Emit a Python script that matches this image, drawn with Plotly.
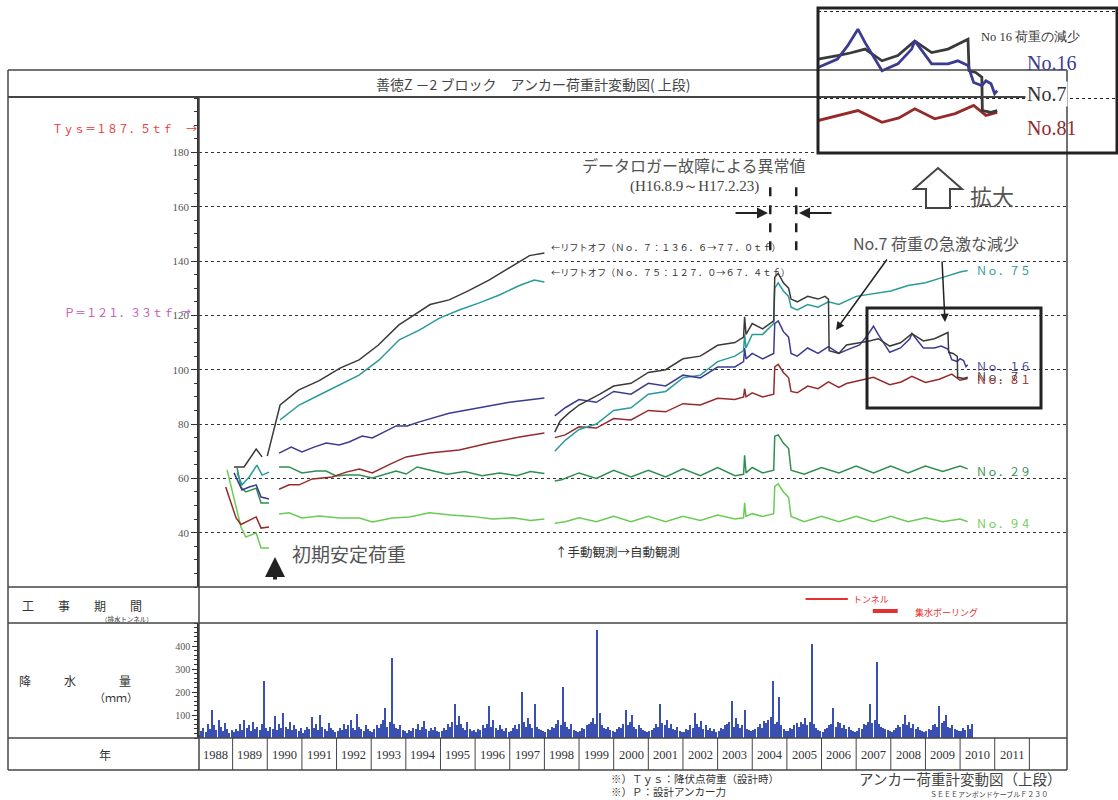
import plotly.graph_objects as go

W, H = 1118, 800
def px(x): return x / W
def py(y): return 1 - y / H

CJK = "Noto Sans CJK JP"
SERIF = "Liberation Serif"

# ---------------- anchor load data (tf) ----------------
no7_initial = [(1989.04, 64.2), (1989.33, 64.2), (1989.68, 70.8), (1989.85, 67.9)]
no7_manual = [(1990.0, 68.2), (1990.37, 87), (1990.9, 92.5), (1991.5, 96), (1992.1, 100.6), (1992.65, 103.6),
              (1993.2, 109), (1993.8, 116.5), (1994.1, 119), (1994.7, 124), (1995.25, 125.7), (1995.8, 129),
              (1996.4, 133), (1997.0, 137.5), (1997.57, 142), (1998.0, 143)]
no7_auto = [(1998.3, 77), (1998.45, 81), (1998.7, 84), (1999.0, 87), (1999.3, 89), (1999.6, 91), (2000.0, 94),
            (2000.5, 95), (2001.0, 99), (2001.5, 100), (2002.0, 104), (2002.5, 105), (2003.0, 109), (2003.5, 110),
            (2003.75, 112), (2003.78, 119.5), (2003.82, 113), (2004.0, 117), (2004.3, 115), (2004.62, 118),
            (2004.65, 134), (2004.75, 135.5), (2004.9, 132), (2005.05, 130), (2005.12, 126), (2005.3, 125),
            (2005.6, 127), (2005.9, 126), (2006.1, 127), (2006.2, 126), (2006.22, 107), (2006.5, 106),
            (2006.72, 109.1), (2007.1, 109.9), (2007.35, 110.5), (2007.64, 111.4), (2007.97, 108.7),
            (2008.28, 109.9), (2008.61, 113.3), (2008.94, 110.6), (2009.26, 111.4), (2009.65, 113.7),
            (2009.67, 106.4), (2009.8, 106), (2009.92, 104.9), (2009.93, 97.2), (2010.1, 96.8), (2010.22, 97.2)]

no75_initial = [(1989.13, 62), (1989.27, 57.6), (1989.48, 60.5), (1989.7, 64.9), (1989.85, 61.2), (1990.05, 62.3)]
no75_manual = [(1990.37, 81.5), (1990.92, 87), (1991.5, 90.7), (1992.08, 94.4), (1992.65, 98), (1993.23, 103.6),
               (1993.81, 111), (1994.39, 114.6), (1994.97, 119), (1995.54, 122), (1996.12, 124.6), (1996.7, 127.5),
               (1997.28, 131), (1997.71, 133), (1998.0, 132.3)]
no75_auto = [(1998.3, 70), (1998.6, 74), (1999.0, 78), (1999.5, 80), (2000.0, 85), (2000.5, 86), (2001.0, 91),
             (2001.5, 92), (2002.0, 97), (2002.5, 98), (2003.0, 103), (2003.5, 105), (2003.75, 107), (2003.78, 113),
             (2003.82, 108), (2004.0, 113), (2004.3, 113), (2004.62, 117), (2004.65, 130), (2004.75, 132),
             (2004.9, 129), (2005.05, 127), (2005.12, 123), (2005.3, 122), (2005.6, 124), (2005.9, 123),
             (2006.2, 125), (2006.5, 124), (2007.0, 127), (2007.5, 128), (2008.0, 129), (2008.5, 131),
             (2009.0, 132), (2009.5, 134), (2010.0, 136), (2010.22, 136.5)]

no16_initial = [(1989.04, 62), (1989.27, 55.7), (1989.48, 56.8), (1989.68, 57.6), (1989.82, 53.1), (1990.05, 52.4)]
no16_manual = [(1990.34, 69.3), (1990.69, 71.5), (1991.0, 69.7), (1991.35, 71.5), (1991.7, 73), (1992.08, 72.3),
               (1992.36, 73.4), (1992.74, 75.6), (1993.03, 74.9), (1993.72, 79.3), (1994.04, 79.3), (1994.39, 80.8),
               (1995.25, 84), (1996.12, 86), (1996.99, 88), (1998.0, 89.6)]
no16_auto = [(1998.3, 83), (1998.6, 86), (1999.0, 89), (1999.5, 88), (2000.0, 92), (2000.5, 91), (2001.0, 95),
             (2001.5, 94), (2002.0, 98), (2002.5, 97), (2003.0, 101), (2003.5, 101), (2003.75, 103), (2003.78, 108),
             (2003.82, 104), (2004.0, 106), (2004.3, 104), (2004.62, 106), (2004.65, 117), (2004.75, 118),
             (2004.9, 114), (2005.05, 112), (2005.12, 106), (2005.3, 105), (2005.6, 108), (2005.9, 106),
             (2006.2, 108.5), (2006.5, 106), (2006.72, 107.2), (2007.1, 109.1), (2007.3, 112.2), (2007.5, 116),
             (2007.64, 112.9), (2007.97, 106.4), (2008.28, 108), (2008.55, 111.4), (2008.61, 113.3),
             (2008.94, 108), (2009.26, 108), (2009.45, 108.7), (2009.65, 107.6), (2009.76, 103.7),
             (2009.92, 103), (2010.0, 104.1), (2010.1, 103.4), (2010.17, 101.1), (2010.22, 101.8)]

no81_initial = [(1988.8, 56.8), (1989.1, 45.4), (1989.24, 43), (1989.68, 45.8), (1989.82, 41.7), (1990.05, 42.1)]
no81_manual = [(1990.34, 56), (1990.63, 57.6), (1990.92, 57.6), (1991.3, 59.8), (1991.87, 60.5), (1992.28, 62.3),
               (1992.66, 63.4), (1993.03, 62), (1993.61, 65.6), (1994.01, 67.9), (1994.68, 69.3), (1995.54, 70.4),
               (1996.41, 73), (1997.28, 75.2), (1998.0, 76.7)]
no81_auto = [(1998.3, 75), (1998.6, 76), (1999.0, 79), (1999.5, 78.5), (2000.0, 82), (2000.5, 81.5), (2001.0, 85),
             (2001.5, 84.5), (2002.0, 87.5), (2002.5, 87), (2003.0, 89.5), (2003.5, 89), (2003.75, 90), (2003.78, 93),
             (2003.82, 90), (2004.0, 91.5), (2004.3, 90), (2004.62, 91), (2004.65, 101), (2004.75, 102),
             (2004.9, 99), (2005.05, 97), (2005.12, 92), (2005.3, 91.5), (2005.6, 94), (2005.9, 93), (2006.2, 95.5),
             (2006.5, 93.5), (2006.72, 94.9), (2007.1, 96), (2007.5, 97.2), (2007.97, 94.5), (2008.3, 95.5),
             (2008.61, 97.6), (2009.0, 95.3), (2009.4, 96.5), (2009.76, 98.4), (2010.0, 96.1), (2010.22, 96.8)]

no29_initial = [(1989.13, 63.8), (1989.24, 56.8), (1989.38, 55), (1989.68, 56.4), (1989.82, 50.9), (1990.05, 50.9)]
no29_manual = [(1990.34, 64.2), (1990.63, 64.2), (1991.0, 62), (1991.41, 62.7), (1991.7, 62.7), (1991.99, 60.9),
               (1992.28, 61.2), (1992.66, 61.2), (1993.03, 60.1), (1993.32, 61.2), (1993.72, 62.7), (1994.01, 61.6),
               (1994.33, 64.2), (1994.68, 63.1), (1995.2, 61.5), (1995.7, 62.5), (1996.2, 61), (1996.7, 62),
               (1997.2, 61), (1997.6, 62.5), (1998.0, 61.8)]
no29_auto = [(1998.3, 59), (1998.5, 59.5), (1999.0, 62), (1999.5, 60), (2000.0, 63), (2000.5, 60.5), (2001.0, 63),
             (2001.5, 60.5), (2002.0, 63.5), (2002.5, 61), (2003.0, 64), (2003.5, 61), (2003.75, 61.5),
             (2003.78, 68.5), (2003.82, 62), (2004.0, 64), (2004.3, 62), (2004.62, 63), (2004.65, 75.5),
             (2004.75, 76), (2004.9, 73), (2005.05, 71), (2005.12, 63), (2005.5, 61.5), (2006.0, 64), (2006.5, 62),
             (2007.0, 64.5), (2007.5, 62), (2008.0, 64.5), (2008.5, 62), (2009.0, 64.5), (2009.5, 62.5),
             (2010.0, 64.5), (2010.22, 63.5)]

no94_initial = [(1988.84, 63.1), (1989.24, 42.1), (1989.38, 38.4), (1989.68, 39.9), (1989.82, 34.4), (1990.05, 34.4)]
no94_manual = [(1990.34, 46.9), (1990.63, 47.3), (1991.0, 45.4), (1991.5, 46.1), (1992.08, 45.4), (1992.66, 45.4),
               (1993.03, 43.9), (1993.61, 45.4), (1994.1, 45.8), (1994.68, 47.3), (1995.3, 46.5), (1995.9, 46),
               (1996.5, 45), (1997.1, 45.5), (1997.6, 44.5), (1998.0, 45)]
no94_auto = [(1998.3, 43.5), (1998.6, 44), (1999.0, 45.5), (1999.5, 44), (2000.0, 46), (2000.5, 44), (2001.0, 46),
             (2001.5, 44), (2002.0, 46), (2002.5, 44.5), (2003.0, 46.5), (2003.5, 45), (2003.75, 45.5),
             (2003.78, 51), (2003.82, 46), (2004.0, 47), (2004.3, 46), (2004.62, 47), (2004.65, 57), (2004.75, 58),
             (2004.9, 55), (2005.05, 53), (2005.12, 46), (2005.5, 44), (2006.0, 46), (2006.5, 44), (2007.0, 46),
             (2007.5, 44), (2008.0, 46), (2008.5, 44), (2009.0, 45.5), (2009.5, 44), (2010.0, 45), (2010.22, 44)]

# ---------------- rainfall (mm), 16 slots per year from 1988 ----------------
rain_first_year = 1988
rain_slots = 16
rain_mm = [
    15, 30, 45, 25, 60, 40, 122, 55, 35, 80, 50, 30, 65, 40, 20, 35,      # 1988
    25, 40, 30, 60, 35, 80, 45, 55, 30, 70, 40, 50, 35, 60, 250, 45,      # 1989
    30, 50, 40, 95, 35, 60, 45, 110, 50, 40, 70, 35, 55, 40, 30, 45,      # 1990
    20, 35, 50, 40, 90, 45, 60, 35, 100, 50, 40, 30, 65, 45, 35, 25,      # 1991
    30, 45, 35, 60, 40, 55, 80, 45, 35, 105, 50, 40, 30, 55, 40, 30,      # 1992
    25, 40, 55, 45, 60, 80, 130, 50, 70, 350, 60, 45, 40, 55, 35, 30,     # 1993
    20, 35, 30, 45, 40, 60, 35, 50, 75, 40, 30, 45, 35, 50, 30, 25,       # 1994
    30, 45, 35, 60, 50, 70, 150, 55, 95, 60, 45, 35, 70, 40, 30, 35,      # 1995
    25, 40, 35, 55, 45, 60, 140, 50, 80, 45, 35, 55, 40, 30, 45, 25,      # 1996
    30, 45, 55, 40, 60, 200, 70, 50, 85, 60, 45, 150, 50, 40, 35, 30,     # 1997
    25, 40, 35, 50, 45, 60, 80, 55, 220, 70, 50, 40, 60, 35, 30, 25,      # 1998
    30, 45, 40, 55, 60, 70, 85, 60, 470, 110, 55, 45, 40, 50, 35, 30,     # 1999
    25, 40, 50, 45, 60, 120, 55, 70, 100, 50, 40, 55, 45, 35, 30, 25,     # 2000
    30, 35, 45, 60, 50, 150, 65, 55, 80, 45, 60, 40, 35, 50, 30, 25,      # 2001
    25, 40, 35, 55, 45, 110, 60, 50, 75, 40, 55, 35, 45, 30, 40, 25,      # 2002
    30, 45, 40, 55, 60, 70, 160, 50, 85, 60, 45, 55, 120, 40, 35, 30,     # 2003
    35, 40, 50, 60, 45, 75, 65, 80, 90, 250, 60, 70, 180, 55, 40, 30,     # 2004
    30, 45, 40, 55, 65, 50, 70, 60, 85, 55, 70, 410, 60, 45, 35, 30,      # 2005
    25, 40, 45, 55, 60, 130, 50, 70, 65, 45, 55, 40, 50, 35, 30, 25,      # 2006
    30, 45, 40, 60, 55, 70, 150, 65, 80, 330, 60, 50, 45, 40, 35, 30,     # 2007
    25, 35, 45, 55, 50, 60, 100, 55, 70, 45, 60, 40, 50, 35, 30, 25,      # 2008
    30, 40, 35, 55, 60, 50, 140, 65, 75, 100, 50, 45, 55, 40, 35, 30,     # 2009
    30, 45, 35, 55, 40, 60,                                               # 2010
]

# ---------------- other values ----------------
years = list(range(1988, 2012))
y_ticks = [40, 60, 80, 100, 120, 140, 160, 180]
rain_ticks = [100, 200, 300, 400]
Tys = 187.5
P_design = 121.33
logger_gap = [2004.52, 2005.27]
works = [("トンネル", 2005.54, 2006.76), ("集水ボーリング", 2007.48, 2008.2)]

C7, C75, C16, C81, C29, C94 = "#3a3a3a", "#2a9a9a", "#3b3b92", "#962a2a", "#2f8f50", "#6acb55"

def joined(*segs):
    xs, ys = [], []
    for i, s in enumerate(segs):
        if i:
            xs.append(None); ys.append(None)
        xs += [p[0] for p in s]
        ys += [p[1] for p in s]
    return xs, ys

series = [
    ("No.94", C94, (no94_initial, no94_manual, no94_auto)),
    ("No.29", C29, (no29_initial, no29_manual, no29_auto)),
    ("No.81", C81, (no81_initial, no81_manual, no81_auto)),
    ("No.75", C75, (no75_initial, no75_manual, no75_auto)),
    ("No.16", C16, (no16_initial, no16_manual, no16_auto)),
    ("No.7", C7, (no7_initial, no7_manual, no7_auto)),
]

fig = go.Figure()
for name, col, segs in series:
    xs, ys = joined(*segs)
    fig.add_trace(go.Scatter(x=xs, y=ys, mode="lines", line=dict(color=col, width=1.5),
                             name=name, xaxis="x", yaxis="y", hoverinfo="skip"))

# inset (magnified) traces
for name, col, segs in [("No.81", C81, (no81_auto,)), ("No.7", C7, (no7_auto,)), ("No.16", C16, (no16_auto,))]:
    xs, ys = joined(*segs)
    fig.add_trace(go.Scatter(x=xs, y=ys, mode="lines", line=dict(color=col, width=2.8),
                             xaxis="x4", yaxis="y4", hoverinfo="skip"))

# construction periods
for i, (lab, s, e) in enumerate(works):
    fig.add_trace(go.Scatter(x=[s, e], y=[0.667 if i == 0 else 0.333] * 2, mode="lines",
                             line=dict(color="#e63030", width=2 if i == 0 else 4),
                             xaxis="x2", yaxis="y2", hoverinfo="skip"))

# rainfall
rain_x = [rain_first_year + (i + 0.5) / rain_slots for i in range(len(rain_mm))]
fig.add_trace(go.Bar(x=rain_x, y=rain_mm, width=0.032, marker=dict(color="#3a4fb2", line=dict(width=0)),
                     xaxis="x3", yaxis="y3", hoverinfo="skip"))

XR = [1988 + 1 / 34.6, 1988 + 868 / 34.6]
off = dict(showgrid=False, zeroline=False, showticklabels=False, ticks="", showline=False)

shapes = []
def line(x0, y0, x1, y1, w=1.5, c="#444", **kw):
    d = dict(type="line", xref="paper", yref="paper", x0=px(x0), y0=py(y0), x1=px(x1), y1=py(y1),
             line=dict(color=c, width=w))
    d.update(kw)
    shapes.append(d)

line(8, 70, 1067, 70, 1.5)
line(8, 97, 1067, 97, 2)
line(8, 587, 1067, 587, 1.5)
line(8, 623, 1067, 623, 1.5)
line(8, 738, 1067, 738, 1.5)
line(8, 770, 1067, 770, 1.5)
line(8, 70, 8, 770, 1.5)
line(1067, 70, 1067, 770, 1.5)
line(199, 97, 199, 770, 1.5)
for yr in range(1989, 2013):
    shapes.append(dict(type="line", xref="x", yref="paper", x0=yr, x1=yr, y0=py(770), y1=py(738),
                       line=dict(color="#444", width=1)))
# logger failure dashed lines
for gx in logger_gap:
    shapes.append(dict(type="line", xref="x", yref="y", x0=gx, x1=gx, y0=144, y1=169,
                       line=dict(color="#222", width=2.5, dash="dash")))
# magnified box
shapes.append(dict(type="rect", xref="paper", yref="paper", x0=px(867), x1=px(1041), y0=py(408), y1=py(308),
                   line=dict(color="#222", width=3)))
# inset frame
shapes.append(dict(type="rect", xref="paper", yref="paper", x0=px(818), x1=px(1117), y0=py(153), y1=py(8),
                   line=dict(color="#222", width=3)))
# hollow up-arrow
pts = [(938, 168), (962, 189), (950, 189), (950, 208), (926, 208), (926, 189), (914, 189)]
path = "M " + " L ".join(f"{px(a):.5f},{py(b):.5f}" for a, b in pts) + " Z"
shapes.append(dict(type="path", xref="paper", yref="paper", path=path, line=dict(color="#444", width=2),
                   fillcolor="white"))

ann = []
def T(text, x, y, size=11, color="#333", family=CJK, xanchor="left", yanchor="middle", xref="paper", yref="paper", **kw):
    d = dict(text=text, x=x, y=y, xref=xref, yref=yref, showarrow=False,
             font=dict(family=family, size=size, color=color), xanchor=xanchor, yanchor=yanchor)
    d.update(kw)
    ann.append(d)

def A(x, y, ax, ay, w=1.5, head=2, size=1.0, color="#222"):
    ann.append(dict(text="", x=px(x), y=py(y), xref="paper", yref="paper", ax=ax, ay=ay, showarrow=True,
                    arrowhead=head, arrowsize=size, arrowwidth=w, arrowcolor=color, standoff=0))

T("善徳Z －2 ブロック　アンカー荷重計変動図( 上段)", px(533), py(84), 14, "#444", xanchor="center")
T("Ｔｙｓ＝１８７．５ｔｆ", px(50), Tys, 11, "#e83a3a", yref="y", yshift=4)
T("→", px(192), Tys, 11, "#e83a3a", xanchor="center", yref="y", yshift=4)
T("Ｐ＝１２１．３３ｔｆ", px(62), P_design, 11, "#c455b8", yref="y")
T("→", px(186), P_design, 10, "#c455b8", xanchor="center", yref="y")

T("←リフトオフ（Ｎｏ．７：１３６．６→７７．０ｔｆ）", px(549), py(247), 9.2, "#333")
T("←リフトオフ（Ｎｏ．７５：１２７．０→６７．４ｔｆ）", px(549), py(272), 9.2, "#333")

T("データロガー故障による異常値", px(694), py(165), 16, "#555", xanchor="center")
T("(H16.8.9～H17.2.23)", px(694), py(186), 15, "#444", family=SERIF, xanchor="center")
A(768, 213, -34, 0, 2, 2, 1.1)
A(799, 213, 34, 0, 2, 2, 1.1)

T("No.7 荷重の急激な減少", px(936), py(243), 16, "#555", xanchor="center")
A(836, 330, 52, -72, 1.5, 2, 1.1)
A(945, 322, -3, -62, 1.5, 2, 1.1)
T("拡大", px(992), py(195), 22, "#555", xanchor="center")

T("Ｎｏ．７５", px(974), py(270), 11, C75)
T("Ｎｏ．７", px(974), py(376), 11, C7)
T("Ｎｏ．１６", px(974), py(366), 11, C16)
T("Ｎｏ．８１", px(974), py(379), 11, C81)
T("Ｎｏ．２９", px(974), py(471), 11, C29)
T("Ｎｏ．９４", px(974), py(523), 11, C94)

T("初期安定荷重", px(290), py(553), 19, "#555")
A(275, 557, 0, 24, 4, 2, 1.0, "#222")
T("↑手動観測→自動観測", px(553), py(551), 12.5, "#333")

T(works[0][0], px(851), py(599), 9, "#e63030")
T(works[1][0], px(913), py(612), 9, "#e63030")

T("工　　事　　期　　間", px(20), py(605), 12, "#333")
T("（排水トンネル）", px(127), py(619), 6.5, "#333", xanchor="center")
T("降", px(25), py(680), 12, "#333", xanchor="center")
T("水", px(70), py(680), 12, "#333", xanchor="center")
T("量", px(125), py(680), 12, "#333", xanchor="center")
T("（ｍｍ）", px(116), py(697), 11, "#333", xanchor="center")
T("年", px(105), py(754), 12, "#333", xanchor="center")

for yr in years:
    T(str(yr), yr + 0.5, py(755), 12.5, "#333", family=SERIF, xanchor="center", xref="x")

T("※）Ｔｙｓ：降伏点荷重（設計時）", px(609), py(778), 10.5, "#333")
T("※）Ｐ：設計アンカー力", px(609), py(791), 10.5, "#333")
T("アンカー荷重計変動図（上段）", px(857), py(778), 14.5, "#444")
T("ＳＥＥＥアンボンドケーブルＦ２３０", px(928), py(794), 7, "#444")

# inset texts
T("No 16 荷重の減少", px(979), py(37), 12.5, "#333", family=SERIF)
T("No.16", px(1025), py(63), 20, C16, family=SERIF)
T("No.7", px(1025), py(94), 20, "#333", family=SERIF, bgcolor="white")
T("No.81", px(1025), py(128), 20, C81, family=SERIF)

fig.update_layout(
    width=W, height=800, margin=dict(l=0, r=0, t=0, b=0),
    paper_bgcolor="white", plot_bgcolor="white", showlegend=False,
    xaxis=dict(domain=[px(199), px(1067)], range=XR, anchor="y", **off),
    yaxis=dict(domain=[py(587), py(97)], range=[20, 200.4], anchor="x",
               tickmode="array", tickvals=y_ticks, ticks="outside", ticklen=6, tickwidth=1, tickcolor="#333",
               minor=dict(tickmode="linear", tick0=0, dtick=5, ticks="outside", ticklen=3, tickcolor="#333",
                          showgrid=False),
               showline=True, linecolor="#333", linewidth=1.5,
               showgrid=True, gridcolor="#333", griddash="dot", gridwidth=1, zeroline=False,
               tickfont=dict(family=SERIF, size=11, color="#555")),
    xaxis2=dict(domain=[px(199), px(1067)], range=XR, anchor="y2", **off),
    yaxis2=dict(domain=[py(623), py(587)], range=[0, 1], anchor="x2", **off),
    xaxis3=dict(domain=[px(199), px(1067)], range=XR, anchor="y3", **off),
    yaxis3=dict(domain=[py(738), py(623)], range=[0, 500], anchor="x3",
                tickmode="array", tickvals=rain_ticks, ticks="outside", ticklen=5, tickwidth=1, tickcolor="#333",
                minor=dict(tickmode="linear", tick0=0, dtick=20, ticks="outside", ticklen=3, tickcolor="#333",
                           showgrid=False),
                showline=True, linecolor="#333", linewidth=1.5, showgrid=False, zeroline=False,
                tickfont=dict(family=SERIF, size=10, color="#555")),
    xaxis4=dict(domain=[px(818), px(1117)], range=[2006.72, 2012.56], anchor="y4", **off),
    yaxis4=dict(domain=[py(153), py(8)], range=[87.4, 120.9], anchor="x4",
                tickmode="array", tickvals=[100, 120], showticklabels=False, ticks="",
                showgrid=True, gridcolor="#222", griddash="dot", gridwidth=1, zeroline=False, showline=False),
    shapes=shapes, annotations=ann, bargap=0,
)

fig.write_html("out.html", config={"displayModeBar": False},
               post_script="document.body.style.margin='0px';document.body.style.overflow='hidden';")
